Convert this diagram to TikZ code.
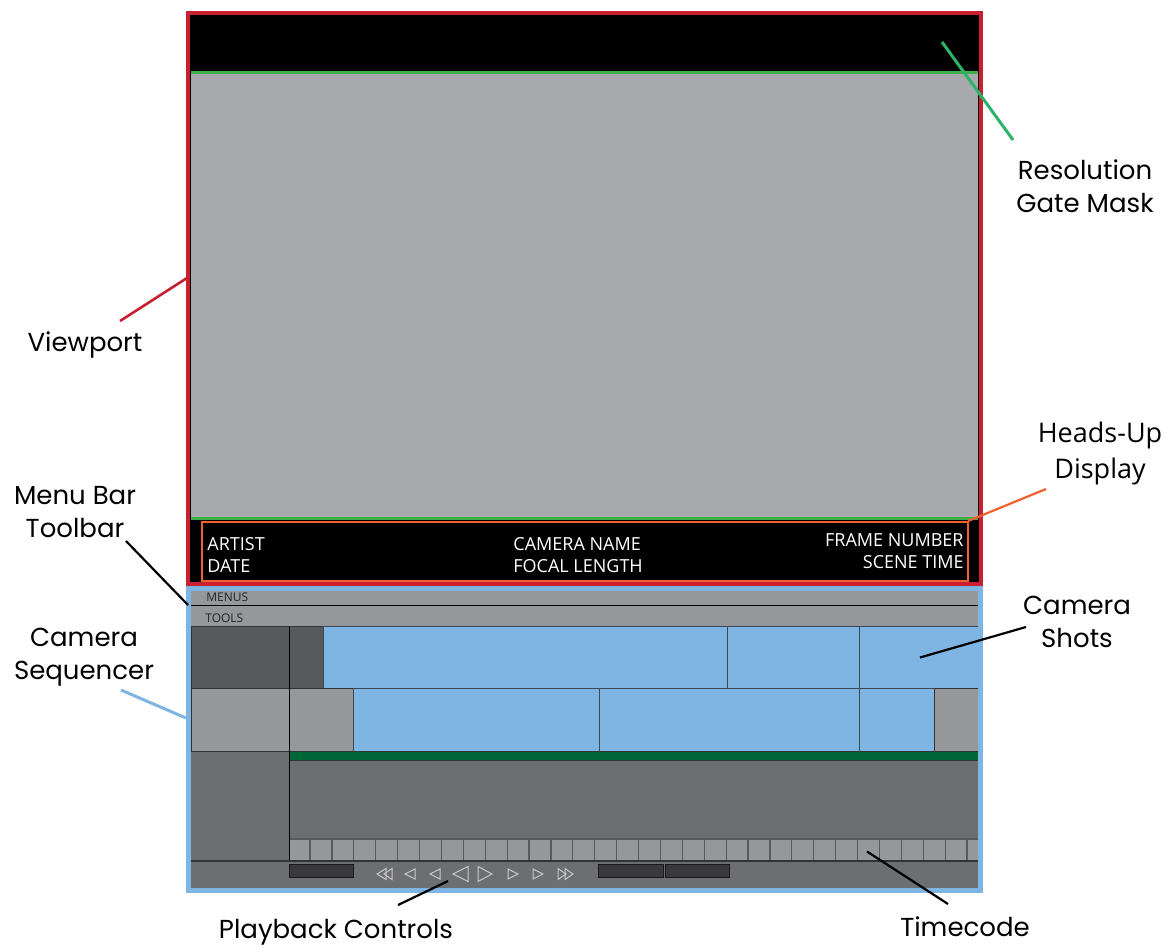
\documentclass[tikz,border=0pt]{standalone}
\usepackage{fontspec}
\usepackage{xcolor}
\newfontfamily\lblfont{Poppins}
\newfontfamily\hudfont{Open Sans}
\definecolor{vpred}{RGB}{200,32,48}
\definecolor{gatefill}{RGB}{167,169,172}
\definecolor{gateline}{RGB}{61,174,73}
\definecolor{gatecall}{RGB}{44,180,108}
\definecolor{hudorange}{RGB}{241,96,48}
\definecolor{seqblue}{RGB}{126,181,227}
\definecolor{shotline}{RGB}{60,72,84}
\definecolor{darkpanel}{RGB}{88,89,91}
\definecolor{lightpanel}{RGB}{150,151,154}
\definecolor{midpanel}{RGB}{109,110,113}
\definecolor{trackgreen}{RGB}{0,104,56}
\definecolor{btnbox}{RGB}{58,58,60}
\definecolor{ctrlline}{RGB}{200,200,202}

\begin{document}
\begin{tikzpicture}[x=0.5pt,y=-0.5pt]
  \tikzstyle{callouttext}=[font=\lblfont\fontsize{13}{16.5}\selectfont,align=center,inner sep=0pt]
  \tikzstyle{hud}=[font=\hudfont\fontsize{9}{11}\selectfont,text=white,inner sep=0pt]
  \tikzstyle{barlabel}=[font=\hudfont\fontsize{6}{7}\selectfont,text=black!85,inner sep=0pt]
  \tikzstyle{shot}=[fill=seqblue,draw=shotline,line width=0.5pt]
  \tikzstyle{panel}=[draw=black!80,line width=0.5pt]
  \tikzstyle{ctrl}=[draw=ctrlline,line width=0.5pt]
  \tikzstyle{leader}=[line width=1.1pt]
  \useasboundingbox (0,0) rectangle (1170,947);

  \fill[black] (188,13) rectangle (981,584);
  \fill[gatefill] (191,73) rectangle (978,519);
  \draw[gateline,line width=1.2pt] (191,72.5) -- (978,72.5);
  \draw[gateline,line width=1.2pt] (191,518.5) -- (978,518.5);
  \draw[hudorange,line width=1pt] (201.5,521.5) rectangle (967.5,580.5);
  \node[hud,anchor=base west] (artist) at (207,550) {ARTIST};
  \node[hud,anchor=base west] (date) at (207,572.5) {DATE};
  \node[hud,anchor=base west] (camname) at (513,550) {CAMERA NAME};
  \node[hud,anchor=base west] (focal) at (513,572.5) {FOCAL LENGTH};
  \node[hud,anchor=base east] (frame) at (964,546) {FRAME NUMBER};
  \node[hud,anchor=base east] (scenetime) at (964,568.5) {SCENE TIME};
  \draw[vpred,line width=2pt] (188,13) rectangle (981,584);

  \fill[midpanel] (191,591) rectangle (978,888);
  \fill[lightpanel] (191,591) rectangle (978,605);
  \draw[black,line width=0.6pt] (191,605.3) -- (978,605.3);
  \fill[lightpanel] (191,606) rectangle (978,626.5);
  \node[barlabel,anchor=base west] (menus) at (206,601.5) {MENUS};
  \node[barlabel,anchor=base west] (tools) at (205,622) {TOOLS};

  \draw[panel,fill=darkpanel] (191,626.5) rectangle (289,688.5);
  \draw[panel,fill=darkpanel] (289,626.5) rectangle (323,688.5);
  \draw[shot] (323,626.5) rectangle (727.5,688.5);
  \draw[shot] (727.5,626.5) rectangle (859.5,688.5);
  \draw[shot] (859.5,626.5) rectangle (978,688.5);
  \draw[panel,fill=lightpanel] (191,688.5) rectangle (289,751);
  \draw[panel,fill=lightpanel] (289,688.5) rectangle (353,751);
  \draw[shot] (353,688.5) rectangle (599,751);
  \draw[shot] (599,688.5) rectangle (859.5,751);
  \draw[shot] (859.5,688.5) rectangle (934.5,751);
  \draw[panel,fill=lightpanel] (934.5,688.5) rectangle (978,751);
  \draw[panel,fill=trackgreen] (289,751) rectangle (978,760);

  \fill[lightpanel] (289,839) rectangle (978,861);
  \draw[darkpanel,line width=0.6pt] (289,839) -- (978,839);
  \foreach \k in {0,...,30}
    \draw[darkpanel,line width=0.6pt] ({310+21.9*\k},839) -- ({310+21.9*\k},861);
  \draw[black,line width=0.5pt] (289,626.5) -- (289,861);
  \draw[black!80,line width=0.6pt] (191,861) -- (978,861);

  \draw[fill=btnbox,draw=black!90,line width=0.5pt] (289,864) rectangle (353,877);
  \draw[fill=btnbox,draw=black!90,line width=0.5pt] (598,864) rectangle (663,877);
  \draw[fill=btnbox,draw=black!90,line width=0.5pt] (665,864) rectangle (729,877);
  \foreach \tx/\bx/\h in {377/386/5.5, 384/392/5.5, 405/415/5, 430/440/5, 453/468/7.5}
    \draw[ctrl] (\tx,874) -- (\bx,874-\h) -- (\bx,874+\h) -- cycle;
  \foreach \bx/\tx/\h in {478/492/7.5, 508/518/5, 533/543/5, 558/566/5.5, 565/573/5.5}
    \draw[ctrl] (\tx,874) -- (\bx,874-\h) -- (\bx,874+\h) -- cycle;
  \draw[seqblue,line width=2.5pt] (188.5,588.5) rectangle (980.5,890.5);

  \node[callouttext] (gatelbl) at (1085,186) {Resolution\\Gate Mask};
  \node[callouttext,anchor=base] (vplbl) at (85,351) {Viewport};
  \node[callouttext,font=\hudfont\fontsize{13.5}{18}\selectfont] (hudlbl) at (1100,453) {Heads-Up\\Display};
  \node[callouttext] (menulbl) at (75,512) {Menu Bar\\Toolbar};
  \node[callouttext] (seqlbl) at (84,657) {Camera\\Sequencer};
  \node[callouttext] (shotlbl) at (1077,622) {Camera\\Shots};
  \node[callouttext,anchor=base] (playlbl) at (336,938) {Playback Controls};
  \node[callouttext,anchor=base] (tclbl) at (965,936) {Timecode};

  \coordinate (gatetip) at (942,42);
  \coordinate (gateend) at (1013,140);
  \coordinate (vptip) at (187,278);
  \coordinate (vpend) at (120,321);
  \coordinate (hudtip) at (968,521);
  \coordinate (hudend) at (1046,489);
  \coordinate (menutip) at (188,605);
  \coordinate (menuend) at (126,541);
  \coordinate (seqtip) at (186,718);
  \coordinate (seqend) at (121,690);
  \coordinate (shottip) at (920,657.5);
  \coordinate (shotend) at (1026,627);
  \coordinate (playtip) at (448,881);
  \coordinate (playend) at (398,905);
  \coordinate (tctip) at (867,851.5);
  \coordinate (tcend) at (948,904);

  \draw[leader,gatecall,line width=1.5pt] (gatetip) -- (gateend);
  \draw[leader,vpred,line width=1.3pt] (vptip) -- (vpend);
  \draw[leader,hudorange] (hudtip) -- (hudend);
  \draw[leader,black] (menutip) -- (menuend);
  \draw[leader,seqblue,line width=1.5pt] (seqtip) -- (seqend);
  \draw[leader,black] (shottip) -- (shotend);
  \draw[leader,black] (playtip) -- (playend);
  \draw[leader,black] (tctip) -- (tcend);
\end{tikzpicture}
\end{document}
